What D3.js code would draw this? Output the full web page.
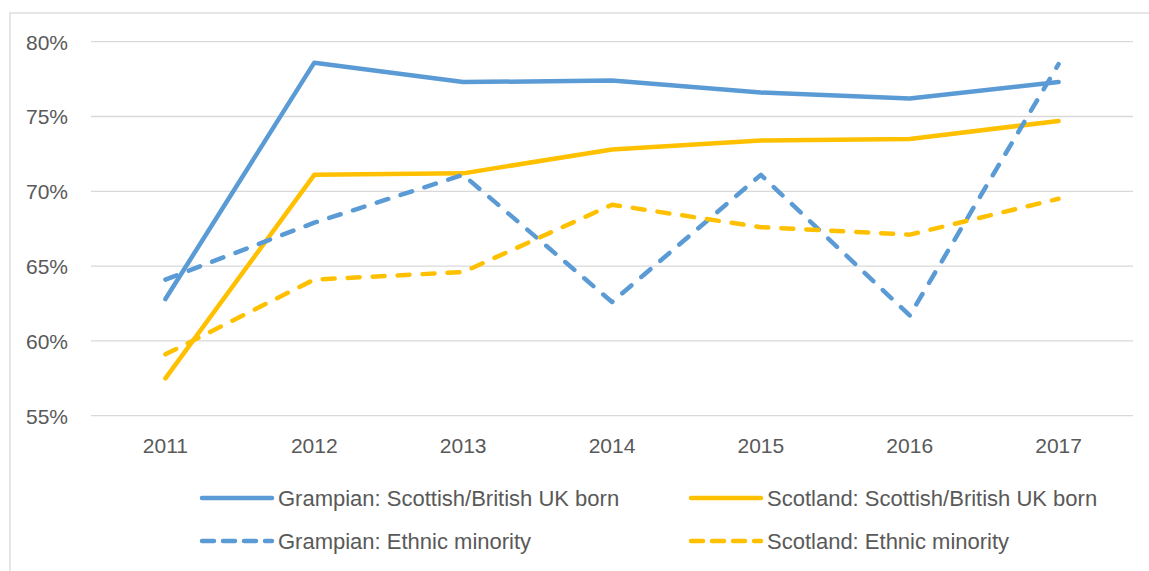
<!DOCTYPE html>
<html>
<head>
<meta charset="utf-8">
<script src="https://cdn.jsdelivr.net/npm/d3@7"></script>
<style>
  html, body { margin: 0; padding: 0; background: #fff; }
  svg { display: block; }
  text { font-family: "Liberation Sans", Arial, sans-serif; fill: #595959; }
</style>
</head>
<body>
<svg id="chart" width="1149" height="571"></svg>
<script>
// Years on the category axis
const years = ["2011", "2012", "2013", "2014", "2015", "2016", "2017"];

// Percentages per series
const grampianUKBorn   = [62.8, 78.6, 77.3, 77.4, 76.6, 76.2, 77.3];
const scotlandUKBorn   = [57.5, 71.1, 71.2, 72.8, 73.4, 73.5, 74.7];
const grampianEthnic   = [64.1, 67.9, 71.1, 62.6, 71.1, 61.7, 78.5];
const scotlandEthnic   = [59.1, 64.1, 64.6, 69.1, 67.6, 67.1, 69.5];

// Value-axis ticks
const yTicks = [55, 60, 65, 70, 75, 80];

const seriesNames = [
  "Grampian: Scottish/British UK born",
  "Scotland: Scottish/British UK born",
  "Grampian: Ethnic minority",
  "Scotland: Ethnic minority"
];

const BLUE = "#5B9BD5", GOLD = "#FFC000";
const DASH = "12,13";

const series = [
  { name: seriesNames[0], values: grampianUKBorn, color: BLUE, dash: null },
  { name: seriesNames[1], values: scotlandUKBorn, color: GOLD, dash: null },
  { name: seriesNames[2], values: grampianEthnic, color: BLUE, dash: DASH },
  { name: seriesNames[3], values: scotlandEthnic, color: GOLD, dash: DASH }
];

const svg = d3.select("#chart");

// Chart frame (extends past the right and bottom edges)
svg.append("rect")
  .attr("x", 10).attr("y", 13)
  .attr("width", 1160).attr("height", 580)
  .attr("fill", "none")
  .attr("stroke", "#D9D9D9")
  .attr("stroke-width", 1.3);

const plotLeft = 91, plotRight = 1133, plotTop = 41.7, plotBottom = 415.7;

const x = d3.scaleBand().domain(years).range([plotLeft, plotRight]).padding(0);
const y = d3.scaleLinear().domain([55, 80]).range([plotBottom, plotTop]);

// Horizontal gridlines
svg.append("g")
  .selectAll("line")
  .data(yTicks)
  .join("line")
  .attr("x1", plotLeft).attr("x2", plotRight)
  .attr("y1", d => y(d)).attr("y2", d => y(d))
  .attr("stroke", "#D9D9D9")
  .attr("stroke-width", 1.3);

// Value axis labels
const yAxis = d3.axisLeft(y)
  .tickValues(yTicks)
  .tickFormat(d => d + "%")
  .tickSize(0)
  .tickPadding(0);
const gy = svg.append("g").attr("transform", "translate(68,0)").call(yAxis);
gy.select(".domain").remove();
gy.selectAll("text")
  .attr("font-size", 21)
  .attr("font-family", "'Liberation Sans', Arial, sans-serif")
  .attr("fill", "#595959")
  .attr("dy", "0.35em");

// Category axis labels
const xAxis = d3.axisBottom(x).tickSize(0).tickPadding(0);
const gx = svg.append("g").attr("transform", "translate(0,437)").call(xAxis);
gx.select(".domain").remove();
gx.selectAll("text")
  .attr("font-size", 21)
  .attr("font-family", "'Liberation Sans', Arial, sans-serif")
  .attr("fill", "#595959")
  .attr("dy", "0.75em");

// Series lines
const line = d3.line()
  .x((d, i) => x(years[i]) + x.bandwidth() / 2)
  .y(d => y(d))
  .curve(d3.curveLinear);

svg.append("g")
  .selectAll("path")
  .data(series)
  .join("path")
  .attr("d", d => line(d.values))
  .attr("fill", "none")
  .attr("stroke", d => d.color)
  .attr("stroke-width", 4.5)
  .attr("stroke-linejoin", "round")
  .attr("stroke-linecap", "round")
  .attr("stroke-dasharray", d => d.dash);

// Legend: two columns, two rows
const legendItems = [
  { s: series[0], x: 202, y: 498 },
  { s: series[1], x: 691, y: 498 },
  { s: series[2], x: 202, y: 541 },
  { s: series[3], x: 691, y: 541 }
];
const lg = svg.append("g")
  .selectAll("g")
  .data(legendItems)
  .join("g")
  .attr("transform", d => `translate(${d.x},${d.y})`);

lg.append("line")
  .attr("x1", 0).attr("x2", 70)
  .attr("y1", 0).attr("y2", 0)
  .attr("stroke", d => d.s.color)
  .attr("stroke-width", 4.5)
  .attr("stroke-linecap", "round")
  .attr("stroke-dasharray", d => d.s.dash ? "12,9" : null);

lg.append("text")
  .attr("x", 76)
  .attr("y", 0)
  .attr("dy", "0.35em")
  .attr("font-size", 22)
  .text(d => d.s.name);
</script>
</body>
</html>
